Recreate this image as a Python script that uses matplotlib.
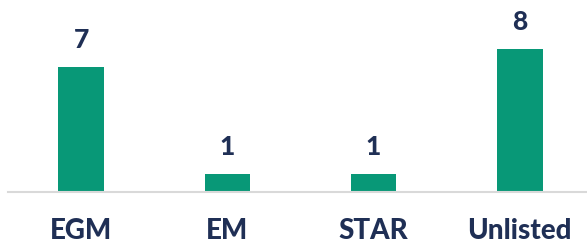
import matplotlib.pyplot as plt

categories = ['EGM', 'EM', 'STAR', 'Unlisted']
counts = [7, 1, 1, 8]

bar_color = '#089877'
text_color = '#1f2f55'

fig = plt.figure(figsize=(5.87, 2.46), dpi=100)
# axes box in figure fraction: baseline at y=192 px, top of 8 at y=49 px
ax = fig.add_axes([8 / 587, (246 - 192) / 246, 1 - 8 / 587, 143 / 246 * 9 / 8])

x = list(range(len(categories)))
bars = ax.bar(x, counts, width=0.312, color=bar_color, zorder=2)

for xi, v in zip(x, counts):
    ax.annotate(str(v), (xi, v), xytext=(0, 11), textcoords='offset points',
                ha='center', va='bottom', fontsize=19, fontweight='black',
                color=text_color, family='Lato')

ax.set_xlim(-0.5, 3.46)
ax.set_ylim(0, 9)
ax.set_xticks(x)
ax.set_xticklabels(categories, fontsize=20, fontweight='black', color=text_color,
                   family='Lato')
ax.tick_params(axis='x', length=0, pad=19)
ax.set_yticks([])
for side in ['top', 'right', 'left']:
    ax.spines[side].set_visible(False)
ax.spines['bottom'].set_color('#d9d9d9')
ax.spines['bottom'].set_linewidth(1.5)
ax.patch.set_alpha(0)

fig.savefig('out.png', dpi=100)
